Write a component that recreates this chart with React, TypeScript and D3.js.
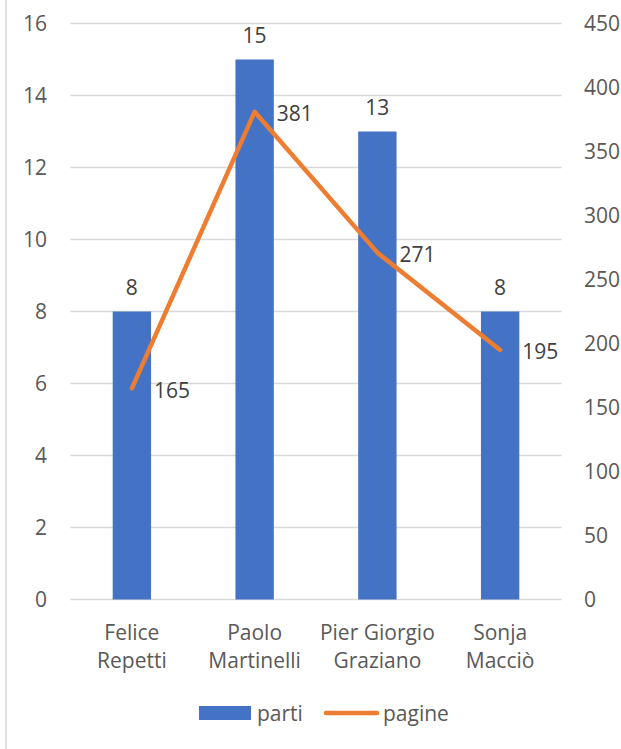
import React, { useEffect, useRef } from "react";
import * as d3 from "d3";

const categories = ["Felice Repetti", "Paolo Martinelli", "Pier Giorgio Graziano", "Sonja Macciò"];
const parti = [8, 15, 13, 8];
const pagine = [165, 381, 271, 195];
const leftTicks = [0, 2, 4, 6, 8, 10, 12, 14, 16];
const rightTicks = [0, 50, 100, 150, 200, 250, 300, 350, 400, 450];
const seriesNames = ["parti", "pagine"];

const App: React.FC = () => {
  const svgRef = useRef<SVGSVGElement>(null);

  useEffect(() => {
    if (!svgRef.current) return;
    const width = 621;
    const height = 749;
    const font = "'Open Sans', 'Noto Sans', sans-serif";
    const fs = "21px";
    const blue = "#4472C4";
    const orange = "#ED7D31";

    const svg = d3.select(svgRef.current);
    svg.selectAll("*").remove();
    svg.attr("width", width).attr("height", height);

    svg.append("rect").attr("width", width).attr("height", height).attr("fill", "#fff");

    // chart border (only left edge is visible)
    svg
      .append("line")
      .attr("x1", 6)
      .attr("x2", 6)
      .attr("y1", 0)
      .attr("y2", height)
      .attr("stroke", "#d9d9d9")
      .attr("stroke-width", 1.5);

    const plot = { left: 70.5, right: 561.5, top: 23.5, bottom: 599.5 };

    const x = d3.scaleBand<string>().domain(categories).range([plot.left, plot.right]);
    const yL = d3.scaleLinear().domain([0, 16]).range([plot.bottom, plot.top]);
    const yR = d3.scaleLinear().domain([0, 450]).range([plot.bottom, plot.top]);
    const barW = x.bandwidth() / 3.2;
    const cx = (c: string) => (x(c) || 0) + x.bandwidth() / 2;

    // gridlines
    svg
      .append("g")
      .selectAll("line")
      .data(leftTicks)
      .enter()
      .append("line")
      .attr("x1", plot.left)
      .attr("x2", plot.right)
      .attr("y1", (d) => yL(d))
      .attr("y2", (d) => yL(d))
      .attr("stroke", "#d9d9d9")
      .attr("stroke-width", 1.5);

    // left axis labels
    svg
      .append("g")
      .selectAll("text")
      .data(leftTicks)
      .enter()
      .append("text")
      .attr("x", 47)
      .attr("y", (d) => yL(d) + 7.5)
      .attr("text-anchor", "end")
      .style("font-family", font)
      .style("font-size", fs)
      .style("fill", "#595959")
      .text((d) => d);

    // right axis labels
    svg
      .append("g")
      .selectAll("text")
      .data(rightTicks)
      .enter()
      .append("text")
      .attr("x", 584)
      .attr("y", (d) => yR(d) + 7.5)
      .attr("text-anchor", "start")
      .style("font-family", font)
      .style("font-size", fs)
      .style("fill", "#595959")
      .text((d) => d);

    // bars
    svg
      .append("g")
      .selectAll("rect")
      .data(categories)
      .enter()
      .append("rect")
      .attr("x", (c) => cx(c) - barW / 2)
      .attr("width", barW)
      .attr("y", (_c, i) => yL(parti[i]))
      .attr("height", (_c, i) => plot.bottom - yL(parti[i]))
      .attr("fill", blue);

    // bar labels
    svg
      .append("g")
      .selectAll("text")
      .data(categories)
      .enter()
      .append("text")
      .attr("x", (c) => cx(c))
      .attr("y", (_c, i) => yL(parti[i]) - 17)
      .attr("text-anchor", "middle")
      .style("font-family", font)
      .style("font-size", fs)
      .style("fill", "#404040")
      .text((_c, i) => parti[i]);

    // line
    const line = d3
      .line<number>()
      .x((_d, i) => cx(categories[i]))
      .y((d) => yR(d));

    svg
      .append("path")
      .attr("d", line(pagine) || "")
      .attr("fill", "none")
      .attr("stroke", orange)
      .attr("stroke-width", 4.5)
      .attr("stroke-linecap", "round")
      .attr("stroke-linejoin", "round");

    // line labels
    svg
      .append("g")
      .selectAll("text")
      .data(pagine)
      .enter()
      .append("text")
      .attr("x", (_d, i) => cx(categories[i]) + 22)
      .attr("y", (d) => yR(d) + 9.5)
      .attr("text-anchor", "start")
      .style("font-family", font)
      .style("font-size", fs)
      .style("fill", "#404040")
      .text((d) => d);

    // category labels
    const cat = svg
      .append("g")
      .selectAll("text")
      .data(categories)
      .enter()
      .append("text")
      .attr("text-anchor", "middle")
      .style("font-family", font)
      .style("font-size", fs)
      .style("fill", "#595959");
    cat.each(function (c) {
      const k = c.lastIndexOf(" ");
      const parts = [c.slice(0, k), c.slice(k + 1)];
      d3.select(this)
        .selectAll("tspan")
        .data(parts)
        .enter()
        .append("tspan")
        .attr("x", cx(c))
        .attr("y", (_p, j) => 639.5 + j * 28)
        .text((p) => p);
    });

    // legend
    const lg = svg.append("g");
    lg.append("rect").attr("x", 199).attr("y", 706).attr("width", 52).attr("height", 14).attr("fill", blue);
    lg.append("text")
      .attr("x", 257)
      .attr("y", 720.5)
      .style("font-family", font)
      .style("font-size", fs)
      .style("fill", "#595959")
      .text(seriesNames[0]);
    lg.append("line")
      .attr("x1", 326)
      .attr("x2", 377)
      .attr("y1", 713)
      .attr("y2", 713)
      .attr("stroke", orange)
      .attr("stroke-width", 4.5)
      .attr("stroke-linecap", "round");
    lg.append("text")
      .attr("x", 383)
      .attr("y", 720.5)
      .style("font-family", font)
      .style("font-size", fs)
      .style("fill", "#595959")
      .text(seriesNames[1]);
  }, []);

  return <svg ref={svgRef} style={{ position: "absolute", left: 0, top: 0, display: "block" }} />;
};

export default App;
